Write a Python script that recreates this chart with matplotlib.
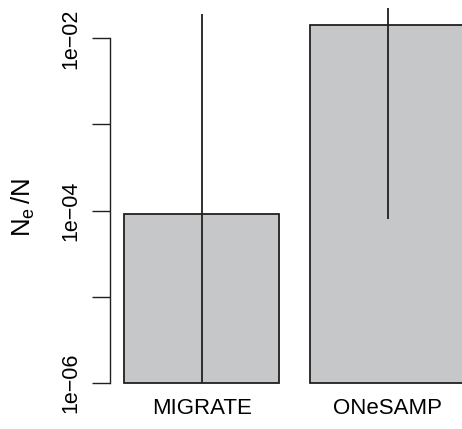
"""
Bar chart of Ne/N estimates (log scale) for MIGRATE and ONeSAMP,
drawn in the style of an R barplot.
"""
import matplotlib
matplotlib.use('Agg')
import matplotlib.pyplot as plt
import matplotlib.ticker as mticker


# Data
METHODS = ['MIGRATE', 'ONeSAMP']
ESTIMATES = [9.2e-5, 1.43e-2]
LOWER = [1e-6, 8.0e-5]
UPPER = [1.93e-2, 2.25e-2]
TICKS = [1e-6, 1e-5, 1e-4, 1e-3, 1e-2]
TICK_LABELS = ['1e\u221206', '', '1e\u221204', '', '1e\u221202']

BAR_COLOR = '#C6C7C9'
LINE_COLOR = '#231F20'

plt.rcParams['font.family'] = ['Liberation Sans', 'DejaVu Sans']
plt.rcParams['mathtext.fontset'] = 'custom'
plt.rcParams['mathtext.rm'] = 'Liberation Sans'
plt.rcParams['mathtext.it'] = 'Liberation Sans'

fig = plt.figure(figsize=(4.62, 4.29), dpi=100)
ax = fig.add_axes([0.2387, 0.1079, 0.7987, 0.8921])

# R barplot positions: width 1, space 0.2
centers = [0.7 + 1.2 * i for i in range(len(METHODS))]
heights = [e - 1e-6 for e in ESTIMATES]
ax.bar(centers, heights, width=1.0, bottom=1e-6, color=BAR_COLOR,
       edgecolor=LINE_COLOR, linewidth=1.3, clip_on=False, zorder=2)
ax.vlines(centers, LOWER, UPPER, color=LINE_COLOR, linewidth=1.3,
          clip_on=False, zorder=3)

ax.set_yscale('log')
ax.set_ylim(1e-6, 10 ** -1.555)
ax.set_xlim(0.112, 2.488)

ax.yaxis.set_major_locator(mticker.FixedLocator(TICKS))
ax.yaxis.set_minor_locator(mticker.NullLocator())
ax.set_yticklabels(TICK_LABELS, rotation=90, va='center', fontsize=15.5)
ax.tick_params(axis='y', length=13, width=1.0, color=LINE_COLOR, pad=8)

ax.set_xticks(centers)
ax.set_xticklabels(METHODS, fontsize=16)
ax.tick_params(axis='x', length=0, pad=11)

for side in ['top', 'right', 'bottom']:
    ax.spines[side].set_visible(False)
ax.spines['left'].set_bounds(1e-6, 1e-2)
ax.spines['left'].set_linewidth(1.0)
ax.spines['left'].set_color(LINE_COLOR)

fig.text(0.05, (429 - 208) / 429, r'$\mathregular{N_e\,/N}$', rotation=90,
         ha='center', va='center', fontsize=18.5)

fig.savefig('out.png', dpi=100)
plt.close(fig)
